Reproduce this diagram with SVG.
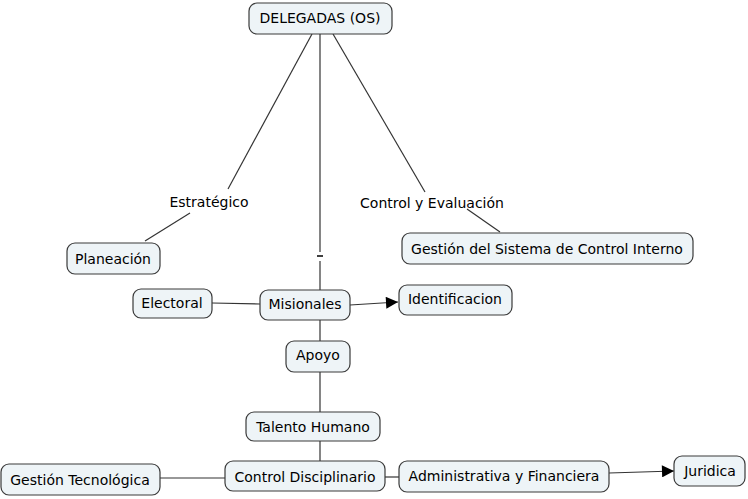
<svg xmlns="http://www.w3.org/2000/svg" width="748" height="499" viewBox="0 0 748 499">
<defs>
<style>
.box{fill:#eef4f7;stroke:#3a3a3a;stroke-width:1.2}
.t{font-family:"DejaVu Sans",Verdana,sans-serif;font-size:14px;fill:#000;text-anchor:middle;dominant-baseline:central}
.c{stroke:#333;stroke-width:1.2;fill:none}
</style>
<marker id="arr" viewBox="0 0 10 10" refX="10" refY="5" markerWidth="14" markerHeight="12" markerUnits="userSpaceOnUse" orient="auto">
<path d="M0,0 L10,5 L0,10 z" fill="#000"/>
</marker>
</defs>
<rect width="748" height="499" fill="#fff"/>
<g id="connectors">
<line class="c" x1="312" y1="34" x2="228" y2="189"/>
<line class="c" x1="190" y1="213" x2="145" y2="241"/>
<line class="c" x1="333" y1="34" x2="425" y2="192"/>
<line class="c" x1="467" y1="209" x2="500" y2="232"/>
<line class="c" x1="320" y1="34" x2="320" y2="252"/>
<line class="c" x1="320" y1="261" x2="320" y2="290"/>
<line class="c" x1="212" y1="303" x2="260" y2="304"/>
<line class="c" x1="350" y1="305" x2="398" y2="302" marker-end="url(#arr)"/>
<line class="c" x1="320" y1="320" x2="320" y2="341"/>
<line class="c" x1="320" y1="372" x2="320" y2="412"/>
<line class="c" x1="320" y1="441" x2="320" y2="461"/>
<line class="c" x1="160" y1="478" x2="225" y2="478"/>
<line class="c" x1="385" y1="477" x2="399" y2="477"/>
<line class="c" x1="609" y1="473" x2="674" y2="471" marker-end="url(#arr)"/>
<line x1="317" y1="256" x2="323" y2="256" stroke="#000" stroke-width="1.5"/>
</g>
<g id="label-estrategico"><text class="t" x="209" y="202">Estratégico</text></g>
<g id="label-control"><text class="t" x="432" y="203">Control y Evaluación</text></g>
<g id="n-delegadas"><rect class="box" x="249" y="3" width="143" height="31" rx="8"/><text class="t" x="320" y="18">DELEGADAS (OS)</text></g>
<g id="n-planeacion"><rect class="box" x="67" y="243" width="93" height="31" rx="8"/><text class="t" x="113" y="259">Planeación</text></g>
<g id="n-gsci"><rect class="box" x="402" y="233" width="291" height="31" rx="8"/><text class="t" x="547" y="249">Gestión del Sistema de Control Interno</text></g>
<g id="n-electoral"><rect class="box" x="133" y="289" width="79" height="29" rx="8"/><text class="t" x="172" y="303">Electoral</text></g>
<g id="n-misionales"><rect class="box" x="260" y="290" width="90" height="30" rx="8"/><text class="t" x="305" y="304">Misionales</text></g>
<g id="n-identificacion"><rect class="box" x="399" y="285" width="113" height="30" rx="8"/><text class="t" x="455" y="299">Identificacion</text></g>
<g id="n-apoyo"><rect class="box" x="286" y="341" width="64" height="31" rx="8"/><text class="t" x="318" y="355">Apoyo</text></g>
<g id="n-talento"><rect class="box" x="246" y="412" width="134" height="29" rx="8"/><text class="t" x="313" y="427">Talento Humano</text></g>
<g id="n-gtec"><rect class="box" x="1" y="464" width="159" height="31" rx="8"/><text class="t" x="80" y="480">Gestión Tecnológica</text></g>
<g id="n-cdisc"><rect class="box" x="225" y="461" width="160" height="30" rx="8"/><text class="t" x="305" y="477">Control Disciplinario</text></g>
<g id="n-admin"><rect class="box" x="399" y="461" width="210" height="31" rx="8"/><text class="t" x="504" y="476">Administrativa y Financiera</text></g>
<g id="n-juridica"><rect class="box" x="674" y="456" width="71" height="30" rx="8"/><text class="t" x="710" y="471">Juridica</text></g>
</svg>
